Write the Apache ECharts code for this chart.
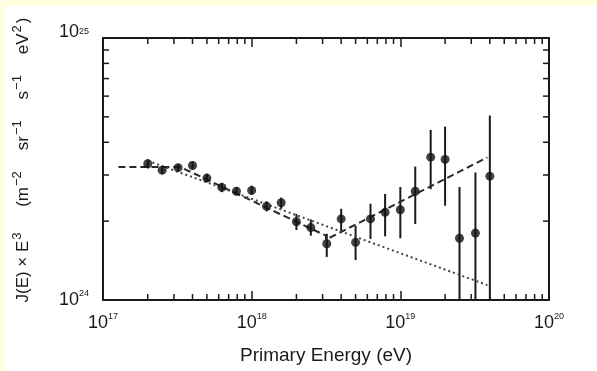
<!DOCTYPE html>
<html>
<head>
<meta charset="utf-8">
<script src="https://cdn.jsdelivr.net/npm/echarts@6/dist/echarts.min.js"></script>
<style>
  html, body { margin: 0; padding: 0; background: #ffffdd; }
  #chart { width: 597px; height: 371px; }
</style>
</head>
<body>
<div id="chart"></div>
<script>
// energy (eV) of each bin and J(E)*E^3 with its error bar
var energy = [2.0e17, 2.5e17, 3.2e17, 4.0e17, 5.0e17, 6.3e17, 7.9e17, 1.0e18,
  1.26e18, 1.58e18, 2.0e18, 2.5e18, 3.2e18, 4.0e18, 5.0e18, 6.3e18, 7.9e18,
  1.0e19, 1.26e19, 1.6e19, 2.0e19, 2.5e19, 3.2e19, 4.0e19];
var flux = [3.31e24, 3.13e24, 3.20e24, 3.26e24, 2.92e24, 2.69e24, 2.60e24, 2.62e24,
  2.28e24, 2.35e24, 1.99e24, 1.89e24, 1.64e24, 2.04e24, 1.66e24, 2.04e24, 2.16e24,
  2.21e24, 2.60e24, 3.51e24, 3.44e24, 1.72e24, 1.80e24, 2.97e24];
var fluxLo = [3.18e24, 3.02e24, 3.10e24, 3.15e24, 2.82e24, 2.58e24, 2.51e24, 2.52e24,
  2.18e24, 2.23e24, 1.85e24, 1.76e24, 1.46e24, 1.82e24, 1.42e24, 1.71e24, 1.75e24,
  1.72e24, 1.95e24, 2.65e24, 2.29e24, 1.0e24, 1.0e24, 1.0e24];
var fluxHi = [3.44e24, 3.25e24, 3.30e24, 3.38e24, 3.03e24, 2.80e24, 2.70e24, 2.73e24,
  2.38e24, 2.46e24, 2.13e24, 2.03e24, 1.79e24, 2.23e24, 1.92e24, 2.33e24, 2.54e24,
  2.70e24, 3.23e24, 4.46e24, 4.59e24, 2.70e24, 3.07e24, 5.06e24];

// broken power law fit (dashed) and single power law (dotted)
var dashedE = [1.27e17, 3.3e17, 3.16e18, 3.16e18, 3.85e19];
var dashedJ = [3.22e24, 3.22e24, 1.76e24, 1.70e24, 3.50e24];
var dottedE = [2.0e17, 3.85e19];
var dottedJ = [3.40e24, 1.14e24];

// minor tick positions
var xMinor = [2e17, 3e17, 4e17, 5e17, 6e17, 7e17, 8e17, 9e17,
  2e18, 3e18, 4e18, 5e18, 6e18, 7e18, 8e18, 9e18,
  2e19, 3e19, 4e19, 5e19, 6e19, 7e19, 8e19, 9e19];
var yMinor = [2e24, 3e24, 4e24, 5e24, 6e24, 7e24, 8e24, 9e24];

var xMin = 1e17, xMax = 1e20, yMin = 1e24, yMax = 1e25;
var ink = '#1a1a1a';
var font = 'Liberation Sans';

var myChart = echarts.init(document.getElementById('chart'));

function pairs(a, b) {
  return a.map(function (v, i) { return [v, b[i]]; });
}

function powLabel(v) {
  var e = Math.round(Math.log10(v));
  return '{b|10}{s|' + e + '}';
}

function yLabel(v) {
  var e = Math.round(Math.log10(v));
  // the top label sits a little above its tick in the original
  return e === 25 ? '{bt|10}{st|' + e + '}' : '{b|10}{s|' + e + '}';
}

var labelRich = {
  b: { fontSize: 18, fontFamily: font, color: ink, lineHeight: 22 },
  s: { fontSize: 9, fontFamily: font, color: ink, verticalAlign: 'top', lineHeight: 12 },
  bt: { fontSize: 18, fontFamily: font, color: ink, lineHeight: 22, padding: [0, 0, 12, 0] },
  st: { fontSize: 9, fontFamily: font, color: ink, verticalAlign: 'top', lineHeight: 12 }
};

var nameRich = {
  n: { fontSize: 17, fontFamily: font, color: ink, lineHeight: 24 },
  s: { fontSize: 13, fontFamily: font, color: ink, verticalAlign: 'top', lineHeight: 13, padding: [0, 2, 0, 1] }
};

myChart.setOption({
  animation: false,
  backgroundColor: 'transparent',
  graphic: [{
    type: 'rect', left: 4, top: 6, z: -10,
    shape: { width: 593, height: 365 },
    style: { fill: '#ffffff' }
  }],
  grid: { left: 103, right: 48, top: 38, bottom: 71 },
  xAxis: [
    {
      type: 'log', min: xMin, max: xMax, position: 'bottom',
      name: 'Primary Energy (eV)', nameLocation: 'middle', nameGap: 46,
      nameTextStyle: { fontSize: 19, fontFamily: font, color: ink },
      axisLine: { lineStyle: { color: ink, width: 2 } },
      axisTick: { inside: true, length: 9, lineStyle: { color: ink, width: 1.5 } },
      axisLabel: { margin: 12, formatter: powLabel, rich: labelRich },
      splitLine: { show: false }, minorTick: { show: false }
    },
    {
      type: 'log', min: xMin, max: xMax, position: 'top',
      axisLine: { lineStyle: { color: ink, width: 2 } },
      axisTick: { inside: true, length: 9, lineStyle: { color: ink, width: 1.5 } },
      axisLabel: { show: false }, splitLine: { show: false }
    }
  ],
  yAxis: [
    {
      type: 'log', min: yMin, max: yMax, position: 'left',
      name: '{n|J(E) × E}{s|3}{n|     (m}{s|−2}{n|    sr}{s|−1}{n|    s}{s|−1}{n|    eV}{s|2}{n|)}',
      nameLocation: 'middle', nameRotate: 90, nameGap: 68,
      nameTextStyle: { fontSize: 17, fontFamily: font, color: ink, lineHeight: 24, padding: [0, 0, 0, 18], rich: nameRich },
      axisLine: { lineStyle: { color: ink, width: 2 } },
      axisTick: { show: false },
      axisLabel: { margin: 14, formatter: yLabel, rich: labelRich },
      splitLine: { show: false }
    },
    {
      type: 'log', min: yMin, max: yMax, position: 'right',
      axisLine: { lineStyle: { color: ink, width: 2 } },
      axisTick: { show: false }, axisLabel: { show: false }, splitLine: { show: false }
    }
  ],
  series: [
    {
      // minor ticks on bottom and top
      type: 'custom', silent: true, clip: false,
      data: xMinor.map(function (v) { return [v, yMin]; }),
      renderItem: function (params, api) {
        var b = api.coord([api.value(0), yMin]);
        var t = api.coord([api.value(0), yMax]);
        var st = { stroke: ink, lineWidth: 1.5 };
        return { type: 'group', children: [
          { type: 'line', shape: { x1: b[0], y1: b[1], x2: b[0], y2: b[1] - 6 }, style: st },
          { type: 'line', shape: { x1: t[0], y1: t[1], x2: t[0], y2: t[1] + 6 }, style: st }
        ] };
      }
    },
    {
      // minor ticks on left and right
      type: 'custom', silent: true, clip: false,
      data: yMinor.map(function (v) { return [xMin, v]; }),
      renderItem: function (params, api) {
        var l = api.coord([xMin, api.value(1)]);
        var r = api.coord([xMax, api.value(1)]);
        var st = { stroke: ink, lineWidth: 1.5 };
        return { type: 'group', children: [
          { type: 'line', shape: { x1: l[0], y1: l[1], x2: l[0] + 6, y2: l[1] }, style: st },
          { type: 'line', shape: { x1: r[0], y1: r[1], x2: r[0] - 6, y2: r[1] }, style: st }
        ] };
      }
    },
    {
      name: 'fit', type: 'line', symbol: 'none',
      data: pairs(dashedE, dashedJ),
      lineStyle: { color: '#2a2a2a', width: 2, type: [7, 4] }
    },
    {
      name: 'power law', type: 'line', symbol: 'none',
      data: pairs(dottedE, dottedJ),
      lineStyle: { color: '#444', width: 2, type: [2, 3] }
    },
    {
      // error bars
      type: 'custom', clip: true,
      data: energy.map(function (e, i) { return [e, fluxLo[i], fluxHi[i]]; }),
      encode: { x: 0, y: [1, 2] },
      renderItem: function (params, api) {
        var p1 = api.coord([api.value(0), api.value(1)]);
        var p2 = api.coord([api.value(0), api.value(2)]);
        return { type: 'line', shape: { x1: p1[0], y1: p1[1], x2: p2[0], y2: p2[1] },
          style: { stroke: ink, lineWidth: 2 } };
      },
      z: 3
    },
    {
      name: 'data', type: 'scatter', symbol: 'circle', symbolSize: 9,
      data: pairs(energy, flux),
      itemStyle: { color: '#111' },
      z: 4
    }
  ]
});
</script>
</body>
</html>
